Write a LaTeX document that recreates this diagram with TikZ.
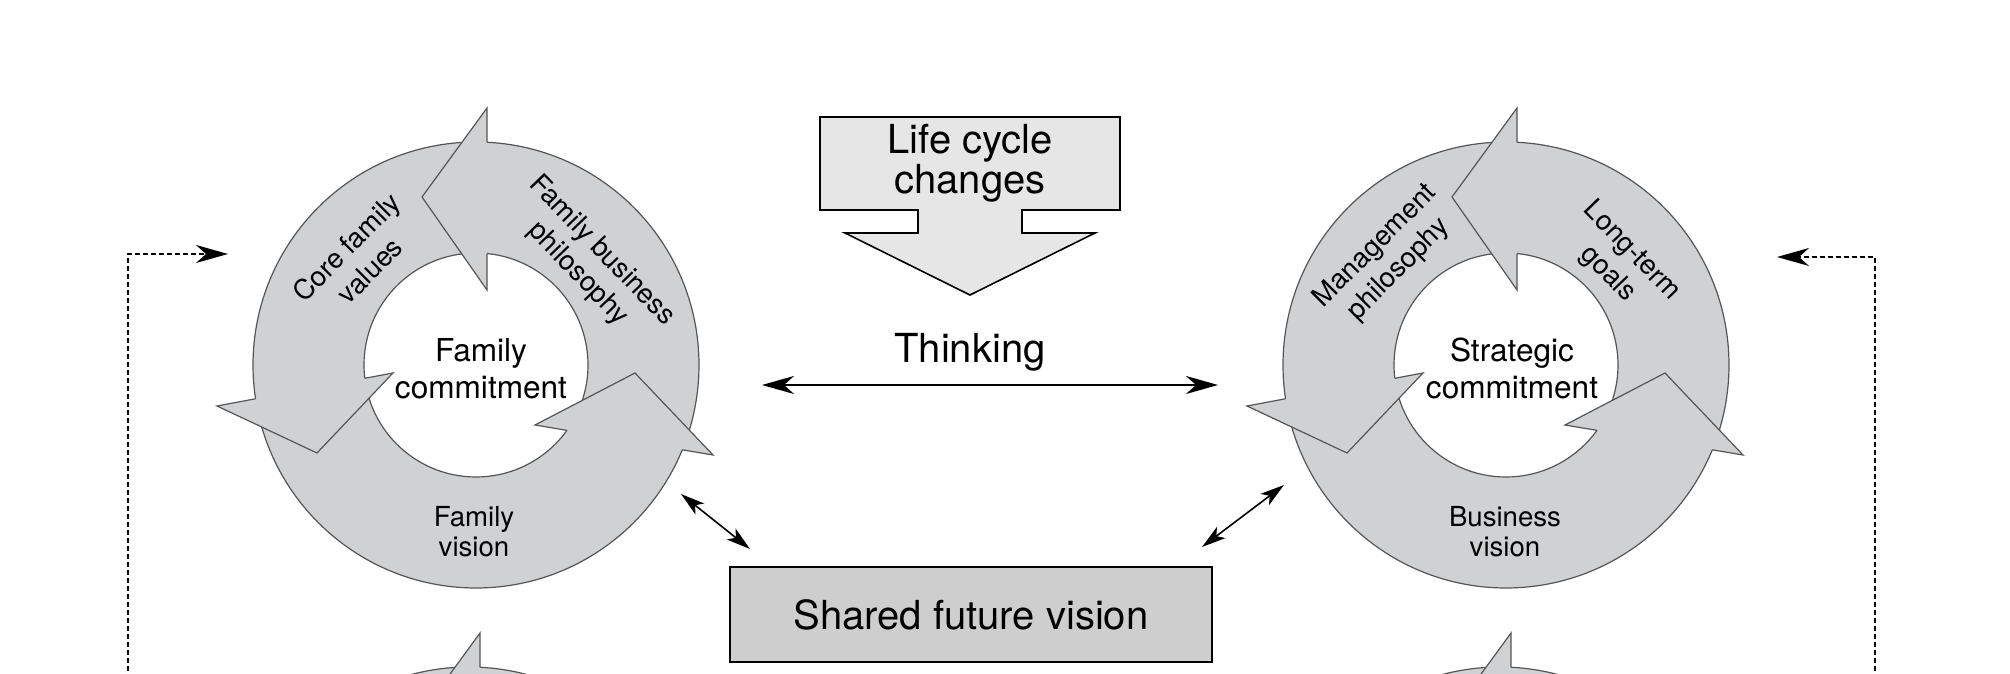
\documentclass[tikz,border=0pt]{standalone}
\usepackage{fontspec}
\setmainfont{TeX Gyre Heros}
\usetikzlibrary{calc,arrows.meta}

\definecolor{ringgray}{RGB}{208,209,211}
\definecolor{ringedge}{RGB}{85,85,85}
\definecolor{lifegray}{RGB}{230,230,230}
\definecolor{sharedgray}{RGB}{206,206,206}

% one ring of three curved arrows, centred on the coordinate #1
\newcommand{\cyclering}[1]{%
  \path[fill=ringgray, draw=ringedge, line width=0.6pt, even odd rule]
    (#1) circle[radius=223] (#1) circle[radius=112];
  \foreach \bo/\tp/\bi/\kout/\kin in {%
      {11,257}/{-54,168}/{11,75}/0.1885/0.7995,
      {-259,-41}/{-159,-88}/{-83,-8}/0.2192/0.8397,
      {237,-90}/{159,-8}/{59,-60}/0.1728/0.8206}{%
    \coordinate (bo) at ($(#1)+(\bo)$);
    \coordinate (tp) at ($(#1)+(\tp)$);
    \coordinate (bi) at ($(#1)+(\bi)$);
    \fill[ringgray] (bo) -- (tp) -- (bi) -- cycle;
    \draw[ringedge, line width=0.6pt]
      ($(bo)!\kout!(bi)$) -- (bo) -- (tp) -- (bi) -- ($(bo)!\kin!(bi)$);
  }%
}

\begin{document}
\begin{tikzpicture}[
    x=0.5pt, y=0.5pt,
    >={Stealth[length=16pt, width=9pt, inset=5pt]},
    ringlabel/.style={font=\fontsize{13.8}{15}\selectfont, align=center, inner sep=0pt},
    slantlabel/.style={ringlabel, font=\fontsize{13.8}{16.5}\selectfont},
    corelabel/.style={font=\fontsize{15.8}{18.5}\selectfont, align=center, inner sep=0pt},
    biglabel/.style={font=\fontsize{20}{20}\selectfont, align=center, inner sep=0pt},
    dashline/.style={line width=0.9pt, dash pattern=on 2.5pt off 1.5pt},
    linkarrow/.style={<->, line width=0.8pt, >={Stealth[length=12pt, width=7pt, inset=3pt]}}
  ]
  \useasboundingbox (0,0) rectangle (2010,674);
  \clip (0,0) rectangle (2010,674);

  % ring centres
  \coordinate (cL) at (476,309);
  \coordinate (cR) at (1506,309);
  \coordinate (cLb) at (469,-216);
  \coordinate (cRb) at (1500,-216);
  \cyclering{cL}
  \cyclering{cR}
  \cyclering{cLb}
  \cyclering{cRb}

  % family side
  \node[slantlabel, rotate=45] (corevalues) at ($(cL)+(138:159)$) {Core family\\values};
  \node[slantlabel, rotate=-46] (fambusiness) at ($(cL)+(42:153)$) {Family business\\philosophy};
  \node[ringlabel] (famvision) at ($(cL)+(-2,-167)$) {Family\\vision};
  \node[corelabel] (famcommit) at ($(cL)+(5,-3.5)$) {Family\\commitment};

  % business side
  \node[slantlabel, rotate=45] (mgmtphil) at ($(cR)+(138:160)$) {Management\\philosophy};
  \node[slantlabel, rotate=-46] (longterm) at ($(cR)+(42:153)$) {Long-term\\goals};
  \node[ringlabel] (busvision) at ($(cR)+(-1,-167)$) {Business\\vision};
  \node[corelabel] (stratcommit) at ($(cR)+(6,-3.5)$) {Strategic\\commitment};

  % life cycle block arrow
  \filldraw[fill=lifegray, draw=black, line width=0.8pt]
    (820,557) -- (1120,557) -- (1120,464) -- (1022,464) -- (1022,441) -- (1095,441)
    -- (970,379) -- (845,441) -- (918,441) -- (918,464) -- (820,464) -- cycle;
  \node[biglabel] (lifecycle) at (970,511) {Life cycle\\changes};

  % thinking
  \node[biglabel, anchor=base] (thinking) at (970,311) {Thinking};
  \coordinate (thinkL) at (762,289);
  \coordinate (thinkR) at (1218,289);
  \draw[<->, line width=1pt] (thinkL) -- (thinkR);

  % shared vision
  \node[biglabel, draw, line width=0.8pt, fill=sharedgray,
        minimum width=241pt, minimum height=47.5pt] (shared) at (971,59.5) {Shared future vision};
  \coordinate (linkLa) at (681,180);
  \coordinate (linkLb) at (750,125);
  \coordinate (linkRa) at (1284,189);
  \coordinate (linkRb) at (1202,127);
  \draw[linkarrow] (linkLa) -- (linkLb);
  \draw[linkarrow] (linkRa) -- (linkRb);

  % feedback loops
  \coordinate (backL) at (128,-5);
  \coordinate (backLtip) at (228,420);
  \coordinate (backR) at (1875,-5);
  \coordinate (backRtip) at (1777,417);
  \draw[dashline, ->] (backL) |- (backLtip);
  \draw[dashline, ->] (backR) |- (backRtip);
\end{tikzpicture}
\end{document}
